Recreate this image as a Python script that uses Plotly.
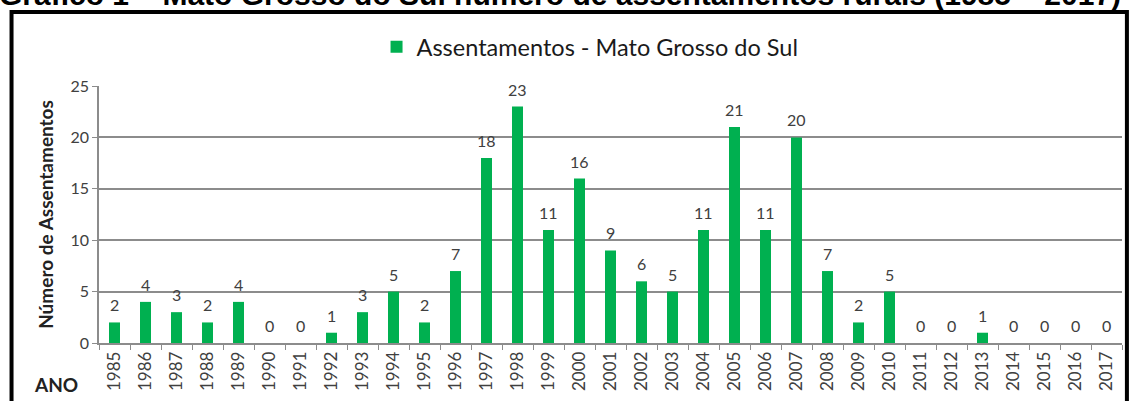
import plotly.graph_objects as go

years = [str(y) for y in range(1985, 2018)]
assentamentos = [2, 4, 3, 2, 4, 0, 0, 1, 3, 5, 2, 7, 18, 23, 11, 16, 9, 6, 5, 11,
                 21, 11, 20, 7, 2, 5, 0, 0, 1, 0, 0, 0, 0]
series_name = "Assentamentos - Mato Grosso do Sul"
y_title = "Número de Assentamentos"
x_label = "ANO"
chart_title = "Gráfico 1 – Mato Grosso do Sul número de assentamentos rurais (1985 – 2017)"
y_ticks = [0, 5, 10, 15, 20, 25]

FONT = "Lato, Calibri, Carlito, sans-serif"
GREEN = "#00B050"
GRID = "#8c8c8c"
TXT = "#404040"

fig = go.Figure()
fig.add_trace(go.Bar(
    x=years, y=assentamentos, name=series_name,
    marker=dict(color=GREEN, line=dict(width=0)),
    showlegend=True,
))

# data labels, placed by category index on the category axis
for i, v in enumerate(assentamentos):
    fig.add_annotation(x=i, y=v, text=str(v), showarrow=False,
                       yanchor="bottom", yshift=6,
                       font=dict(family=FONT, size=16, color=TXT))

fig.add_annotation(xref="paper", yref="paper", x=-0.042, y=-0.163,
                   text="<b>" + x_label + "</b>", showarrow=False,
                   xanchor="center", yanchor="middle",
                   font=dict(family=FONT, size=19, color="#222222"))

fig.add_annotation(xref="paper", yref="paper", x=0.4506, y=1.284,
                   text="<b>" + chart_title + "</b>", showarrow=False,
                   xanchor="center", yanchor="bottom",
                   font=dict(family="Liberation Sans, Arial, sans-serif", size=30, color="#000000"))

fig.add_shape(type="rect", xref="paper", yref="paper",
              x0=-0.0855, x1=1.0048, y0=-0.4, y1=1.288,
              line=dict(color="#000000", width=4), layer="above")

fig.update_layout(
    width=1130, height=401,
    margin=dict(l=99, r=8, t=86, b=58, pad=0, autoexpand=False),
    paper_bgcolor="white", plot_bgcolor="white",
    bargap=0.645,
    font=dict(family=FONT, color=TXT),
    legend=dict(orientation="h", x=0.48, y=1.152, xanchor="center", yanchor="middle",
                font=dict(family=FONT, size=23.5, color="#1a1a1a"),
                itemwidth=30, bgcolor="rgba(0,0,0,0)"),
    xaxis=dict(type="category", tickangle=-90, tickfont=dict(family=FONT, size=17, color=TXT),
               showline=True, linecolor=GRID, linewidth=1.5, automargin=False,
               ticks="outside", tickson="boundaries", ticklen=5, tickcolor=GRID,
               showgrid=False),
    yaxis=dict(range=[0, 25], tickvals=y_ticks, tickfont=dict(family=FONT, size=16, color=TXT),
               showline=True, linecolor=GRID, linewidth=1.5, automargin=False,
               ticks="outside", ticklen=5, tickcolor=GRID,
               showgrid=True, gridcolor=GRID, gridwidth=1.5, zeroline=False,
               title=dict(text="<b>" + y_title + "</b>", font=dict(family=FONT, size=19, color="#222222"),
                          standoff=12)),
)

fig.write_html("out.html", config={"displayModeBar": False},
               post_script="document.body.style.margin='0';")
